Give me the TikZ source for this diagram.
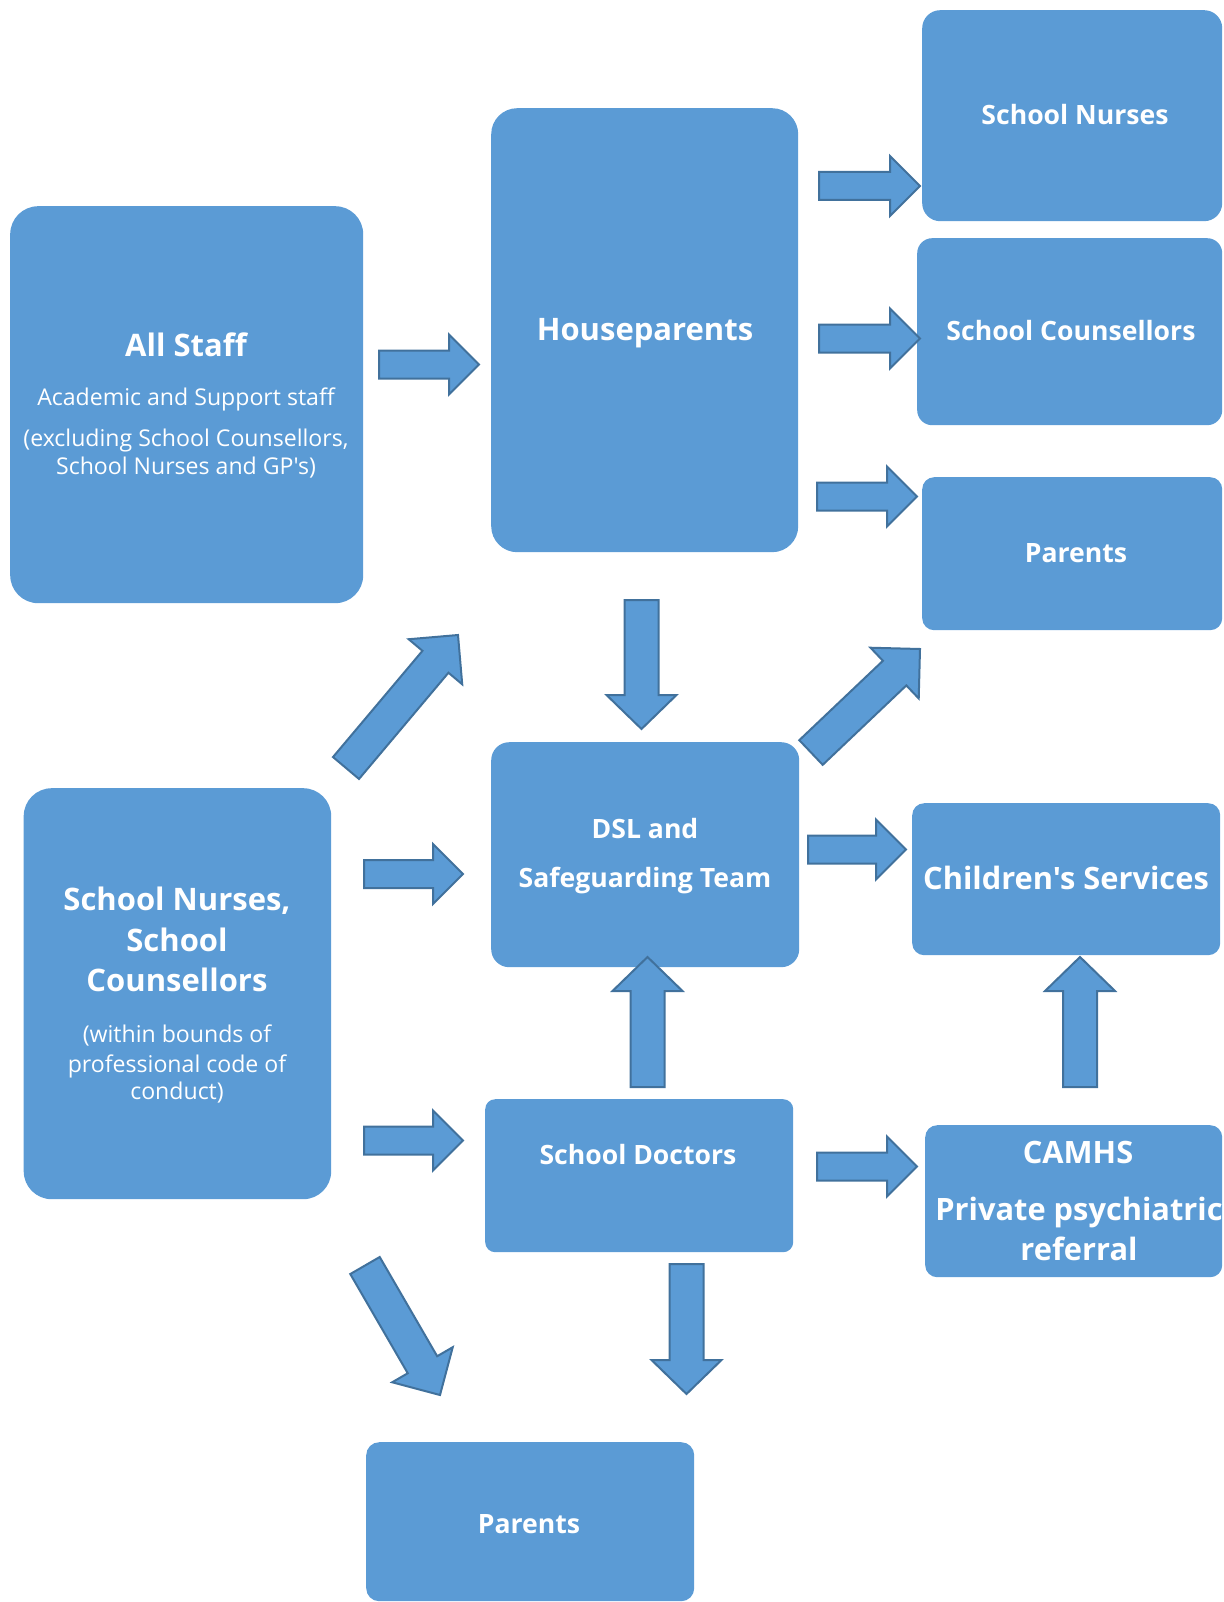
\documentclass[tikz,border=0pt]{standalone}
\usepackage{fontspec}
\setmainfont{Open Sans}[Ligatures=TeXOff]
\usetikzlibrary{calc}
\definecolor{boxblue}{HTML}{5B9BD5}
\definecolor{arrowedge}{HTML}{41719C}
\tikzset{
  box/.style={fill=boxblue, draw=none, rounded corners=#1, inner sep=0pt, anchor=north west},
  box/.default=15pt,
  blockarr/.style={fill=boxblue, draw=arrowedge, line width=2pt, line join=miter},
  txt/.style={text=white, inner sep=0pt, anchor=center, align=center},
  bigT/.style={txt, font=\bfseries\fontsize{31}{37}\selectfont},
  midT/.style={txt, font=\bfseries\fontsize{26.6}{32}\selectfont},
  lrgT/.style={txt, font=\bfseries\fontsize{30.8}{36}\selectfont},
  smallT/.style={txt, font=\fontsize{23.1}{27}\selectfont},
}
\newcommand\blockarrow[5]{%
  \draw[blockarr] let \p1=(#1), \p2=(#2),
    \n1={atan2(\y2-\y1,\x2-\x1)}, \n2={veclen(\x2-\x1,\y2-\y1)} in
    [shift={(\p1)}, rotate=\n1]
    (0,-#3) -- ({\n2-#5},-#3) -- ({\n2-#5},-#4) -- ({\n2},0) --
    ({\n2-#5},#4) -- ({\n2-#5},#3) -- (0,#3) -- cycle;}
\begin{document}
\begin{tikzpicture}[x=1pt,y=-1pt]
\useasboundingbox (0,0) rectangle (1223,1602);
% boxes
\node[box=28pt, minimum width=353pt, minimum height=397pt] (allstaff) at (10,206) {};
\node[box=26pt, minimum width=307pt, minimum height=444pt] (house) at (491,108) {};
\node[box=18pt, minimum width=300pt, minimum height=211pt] (nurses) at (922,10) {};
\node[box=15pt, minimum width=305pt, minimum height=187pt] (couns) at (917,238) {};
\node[box=12pt, minimum width=300pt, minimum height=153pt] (parentsTop) at (922,477) {};
\node[box=18pt, minimum width=308pt, minimum height=225pt] (dsl) at (491,742) {};
\node[box=12pt, minimum width=308pt, minimum height=152pt] (children) at (912,803) {};
\node[box=28pt, minimum width=307.5pt, minimum height=411pt] (snsc) at (23.5,788) {};
\node[box=10pt, minimum width=308pt, minimum height=153pt] (doctors) at (485,1099) {};
\node[box=12pt, minimum width=297pt, minimum height=152pt] (camhs) at (925,1125) {};
\node[box=13pt, minimum width=328pt, minimum height=159pt] (parentsBot) at (366,1442) {};
% texts
\node[bigT] (tAll) at (186,345) {All Staff};
\node[smallT] (tAll2) at (186,399) {Academic and Support staff};
\node[smallT] (tAll3) at (186,440) {(excluding School Counsellors,};
\node[smallT] (tAll4) at (186,468) {School Nurses and GP's)};
\node[bigT] (tHouse) at (645,333) {Houseparents};
\node[midT] (tNurses) at (1075,115) {School Nurses};
\node[midT] (tCouns) at (1071,331) {School Counsellors};
\node[midT] (tParTop) at (1076,553) {Parents};
\node[midT] (tDsl1) at (645,829) {DSL and};
\node[midT] (tDsl2) at (645,881) {Safeguarding Team};
\node[lrgT] (tChild) at (1066,878) {Children's Services};
\node[bigT] (tSn1) at (177,901) {School Nurses,};
\node[bigT] (tSn2) at (177,940) {School};
\node[bigT] (tSn3) at (177,980) {Counsellors};
\node[smallT] (tSn4) at (177,1035) {(within bounds of};
\node[smallT] (tSn5) at (177,1066) {professional code of};
\node[smallT] (tSn6) at (177,1093) {conduct)};
\node[midT] (tDoc) at (638,1155) {School Doctors};
\node[lrgT] (tCam1) at (1078,1152) {CAMHS};
\node[lrgT] (tCam2) at (1079,1212) {Private psychiatric};
\node[lrgT] (tCam3) at (1079,1249) {referral};
\node[midT] (tParBot) at (529,1524) {Parents};
% arrow end coordinates
\coordinate (h1s) at (379,364.5);  \coordinate (h1e) at (479,364.5);
\coordinate (h2s) at (819,186);    \coordinate (h2e) at (920,186);
\coordinate (h3s) at (819,338.5);  \coordinate (h3e) at (920,338.5);
\coordinate (h4s) at (817,496.5);  \coordinate (h4e) at (917,496.5);
\coordinate (h5s) at (364,874);    \coordinate (h5e) at (463,874);
\coordinate (h6s) at (808,849.5);  \coordinate (h6e) at (906,849.5);
\coordinate (h7s) at (364,1140.5); \coordinate (h7e) at (463,1140.5);
\coordinate (h8s) at (817,1166.5); \coordinate (h8e) at (917,1166.5);
\coordinate (v1s) at (641.5,600);  \coordinate (v1e) at (641.5,729);
\coordinate (v2s) at (647.5,1087); \coordinate (v2e) at (647.5,957);
\coordinate (v3s) at (1080,1087);  \coordinate (v3e) at (1080,957);
\coordinate (v4s) at (686.5,1264); \coordinate (v4e) at (686.5,1394);
\coordinate (d1s) at (346,768);    \coordinate (d1e) at (458,635);
\coordinate (d2s) at (811,752.5);  \coordinate (d2e) at (920,649);
\coordinate (d3s) at (365,1265.5); \coordinate (d3e) at (440,1395);
% arrows
\blockarrow{h1s}{h1e}{14}{30}{30}
\blockarrow{h2s}{h2e}{14}{30}{30}
\blockarrow{h3s}{h3e}{14}{30}{30}
\blockarrow{h4s}{h4e}{14}{30}{30}
\blockarrow{h5s}{h5e}{14}{30}{30}
\blockarrow{h6s}{h6e}{14}{30}{30}
\blockarrow{h7s}{h7e}{14}{30}{30}
\blockarrow{h8s}{h8e}{14}{30}{30}
\blockarrow{v1s}{v1e}{17}{35}{34}
\blockarrow{v2s}{v2e}{17}{35}{34}
\blockarrow{v3s}{v3e}{17}{35}{34}
\blockarrow{v4s}{v4e}{17}{35}{34}
\blockarrow{d1s}{d1e}{17}{35}{35}
\blockarrow{d2s}{d2e}{17}{35}{35}
\blockarrow{d3s}{d3e}{17}{35}{35}
\end{tikzpicture}
\end{document}
